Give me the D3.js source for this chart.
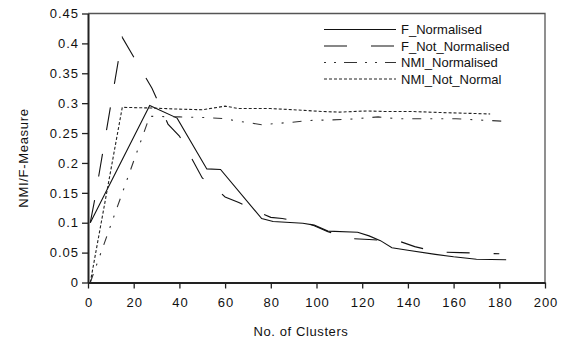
<!DOCTYPE html>
<html>
<head>
<meta charset="utf-8">
<script src="https://cdn.jsdelivr.net/npm/d3@7"></script>
<style>
  body { margin: 0; background: #fff; }
  text { font-family: "Liberation Sans", Arial, sans-serif; font-size: 13px; fill: #111; }
</style>
</head>
<body>
<script>
// chart size
var w = 569, h = 341;

// series values (x = no. of clusters, y = NMI / F-measure)
var fNormX = [1, 27, 39, 52, 58, 76, 81, 94, 99, 105, 118, 123, 128, 133, 140, 152, 160, 170, 183];
var fNormY = [0.1, 0.296, 0.275, 0.19, 0.189, 0.107, 0.102, 0.099, 0.096, 0.086, 0.084, 0.078, 0.07, 0.058, 0.054, 0.047, 0.043, 0.039, 0.038];

var fNotX = [1, 3, 15, 28, 35, 40, 50, 58, 60, 66, 75, 80, 85, 94, 99, 105, 113, 123, 134, 137, 143, 153, 163, 172, 180];
var fNotY = [0.1, 0.14, 0.41, 0.325, 0.265, 0.245, 0.175, 0.15, 0.143, 0.134, 0.117, 0.109, 0.107, 0.101, 0.095, 0.085, 0.074, 0.072, 0.069, 0.068, 0.06, 0.051, 0.05, 0.049, 0.048];

var nmiNormX = [1, 27, 40, 51, 60, 64, 76, 89, 97, 106, 114, 127, 135, 145, 161, 170, 181];
var nmiNormY = [0, 0.278, 0.277, 0.276, 0.274, 0.271, 0.264, 0.268, 0.271, 0.272, 0.273, 0.277, 0.274, 0.274, 0.274, 0.272, 0.27];

var nmiNotX = [1, 15, 27, 40, 50, 60, 66, 80, 90, 103, 110, 122, 131, 142, 157, 176];
var nmiNotY = [0, 0.293, 0.292, 0.29, 0.289, 0.295, 0.291, 0.291, 0.289, 0.286, 0.285, 0.287, 0.286, 0.286, 0.284, 0.282];

var seriesNames = ["F_Normalised", "F_Not_Normalised", "NMI_Normalised", "NMI_Not_Normal"];

// tick labels
var xTicks = [0, 20, 40, 60, 80, 100, 120, 140, 160, 180, 200];
var yTicks = [0, 0.05, 0.1, 0.15, 0.2, 0.25, 0.3, 0.35, 0.4, 0.45];

var series = [
    {name: seriesNames[0], xs: fNormX, ys: fNormY, dash: null, color: "#111"},
    {name: seriesNames[1], xs: fNotX, ys: fNotY, dash: "23,24", color: "#111"},
    {name: seriesNames[2], xs: nmiNormX, ys: nmiNormY, dash: "9,9,2,9,2,9", color: "#333"},
    {name: seriesNames[3], xs: nmiNotX, ys: nmiNotY, dash: "3,2", color: "#222"}
];

var svg = d3.select("body").append("svg")
    .attr("width", w)
    .attr("height", h);

var x = d3.scaleLinear().domain([0, 200]).range([88, 545]);
var y = d3.scaleLinear().domain([0, 0.45]).range([282.5, 13.5]);

// top and right frame
svg.append("path")
    .attr("d", "M" + x(0) + "," + y(0.45) + "H" + x(200) + "V" + y(0))
    .attr("fill", "none")
    .attr("stroke", "#555")
    .attr("stroke-width", 1.3);

var fmt = function(d){ return String(+d.toFixed(2)); };

var xAxis = svg.append("g")
    .attr("transform", "translate(0," + y(0) + ")")
    .call(d3.axisBottom(x).tickValues(xTicks).tickSize(6).tickSizeOuter(0).tickPadding(9));

var yAxis = svg.append("g")
    .attr("transform", "translate(" + x(0) + ",0)")
    .call(d3.axisLeft(y).tickValues(yTicks).tickFormat(fmt).tickSize(6).tickSizeOuter(0).tickPadding(3));

[xAxis, yAxis].forEach(function(g){
    g.select(".domain").attr("stroke", "#222").attr("stroke-width", 2);
    g.selectAll(".tick line").attr("stroke", "#222").attr("stroke-width", 1.3);
    g.selectAll(".tick text")
        .style("font-family", "'Liberation Sans', Arial, sans-serif")
        .style("font-size", "13px")
        .style("letter-spacing", "1px")
        .attr("fill", "#111");
});
// x labels: offset the trailing letter-spacing so they stay centred
xAxis.selectAll(".tick text").attr("dx", "0.5");

// lines
var line = d3.line()
    .x(function(d){ return x(d[0]); })
    .y(function(d){ return y(d[1]); });

svg.selectAll(".series")
    .data(series)
    .enter()
    .append("path")
    .attr("class", "series")
    .attr("d", function(s){
        return line(s.xs.map(function(v, i){ return [v, s.ys[i]]; }));
    })
    .attr("fill", "none")
    .attr("stroke", function(s){ return s.color; })
    .attr("stroke-width", 1.1)
    .attr("stroke-dasharray", function(s){ return s.dash; });

// legend
var legend = svg.selectAll(".legend")
    .data(series)
    .enter()
    .append("g")
    .attr("class", "legend")
    .attr("transform", function(d, i){ return "translate(324," + (29.5 + i * 16.5) + ")"; });

legend.append("line")
    .attr("x1", 0).attr("x2", 72)
    .attr("stroke", function(d){ return d.color; })
    .attr("stroke-width", 1.1)
    .attr("stroke-dasharray", function(d, i){ return i == 2 ? "2,8,2,8,13,8" : d.dash; });

legend.append("text")
    .attr("x", 77)
    .attr("y", 4.5)
    .text(function(d){ return d.name; });

// axis titles
svg.append("text")
    .attr("x", 301)
    .attr("y", 336)
    .attr("text-anchor", "middle")
    .style("letter-spacing", "0.6px")
    .text("No. of Clusters");

svg.append("text")
    .attr("transform", "translate(28,158) rotate(-90)")
    .attr("text-anchor", "middle")
    .style("letter-spacing", "0.7px")
    .text("NMI/F-Measure");
</script>
</body>
</html>
